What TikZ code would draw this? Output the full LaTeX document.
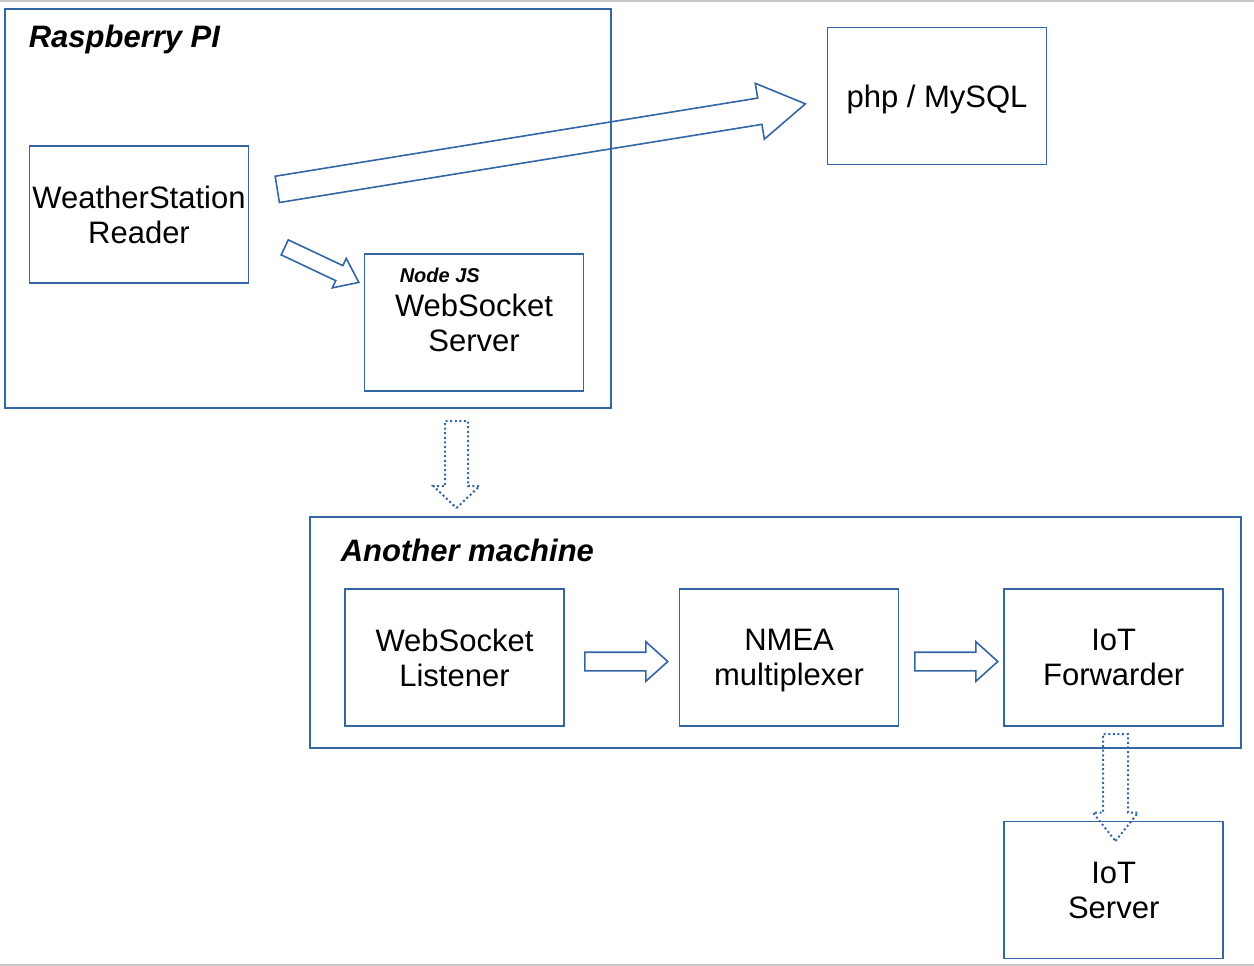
\documentclass[tikz,border=0pt]{standalone}
\usepackage{fontspec}
\setmainfont{Liberation Sans}
\usepackage{xcolor}
\usepackage{tikz}
\usetikzlibrary{positioning}
\usetikzlibrary{shapes.arrows}
\definecolor{boxblue}{HTML}{3465A4}
\definecolor{edgegray}{HTML}{C8C8C8}

\begin{document}
\begin{tikzpicture}[x=1pt, y=-1pt, line width=1.6pt,
        box/.style={draw=boxblue, minimum width=219pt, minimum height=137pt, inner sep=1pt, align=center, text depth=0pt, font=\fontsize{31}{35}\selectfont},
        frame/.style={draw=boxblue, inner sep=0pt},
        title/.style={anchor=base west, inner sep=0pt, font=\fontsize{31}{35}\selectfont\bfseries\itshape},
        fatarrow/.style={single arrow, draw=boxblue, anchor=tail, minimum width=0pt},
        dotarrow/.style={fatarrow, line width=2pt, dash pattern=on 2pt off 2.6pt}]

        \useasboundingbox (0,0) rectangle (1254,966);
        \draw[edgegray, line width=2pt] (0,1) -- (1254,1);
        \draw[edgegray, line width=2pt] (0,965) -- (1254,965);

        % machines
        \node[frame, minimum width=606pt, minimum height=399pt] (rpi) at (308,208.5) {};
        \node[title] (rpititle) at (28,48) {Raspberry PI};
        \node[frame, minimum width=931pt, minimum height=231pt] (other) at (775.5,632.5) {};
        \node[title] (othertitle) at (340,561) {Another machine};

        \node[box] (reader) at (139,214.5) {WeatherStation\\Reader};
        \node[box] (db) at (937,96) {php / MySQL};
        \node[box] (server) at (474,322.5) {WebSocket\\Server};
        \node[title, font=\fontsize{20}{24}\selectfont\bfseries\itshape] (nodejs) at (399,282) {Node JS};

        \node[box] (listener) at (454.5,657.5) {WebSocket\\Listener};
        \node[box, right=114pt of listener] (mux) {NMEA\\multiplexer};
        \node[box, right=104pt of mux] (fwd) {IoT\\Forwarder};
        \node[box, below=94pt of fwd] (iot) {IoT\\Server};

        % block arrows
        \node[fatarrow, inner sep=12.5pt, single arrow head extend=15pt, single arrow tip angle=63, minimum height=535pt, rotate=9.2] (todb) at (276.5,189.5) {};
        \node[fatarrow, inner sep=7.5pt, single arrow head extend=8pt, single arrow tip angle=74, minimum height=82pt, rotate=-25.3] (tows) at (284,247) {};
        \node[fatarrow, inner sep=8.5pt, single arrow head extend=10.5pt, single arrow tip angle=84, minimum height=83pt] (tomux) at (584,661.5) {};
        \node[fatarrow, inner sep=8.5pt, single arrow head extend=10.5pt, single arrow tip angle=84, minimum height=83pt] (tofwd) at (914,661.5) {};
        \node[dotarrow, inner sep=10.5pt, single arrow head extend=11.5pt, single arrow tip angle=93, minimum height=87pt, rotate=-90] (tolistener) at (456.5,420) {};
        \node[dotarrow, inner sep=11.5pt, single arrow head extend=10pt, single arrow tip angle=77, minimum height=107pt, rotate=-90] (toiot) at (1115.5,733) {};

    \end{tikzpicture}
\end{document}
